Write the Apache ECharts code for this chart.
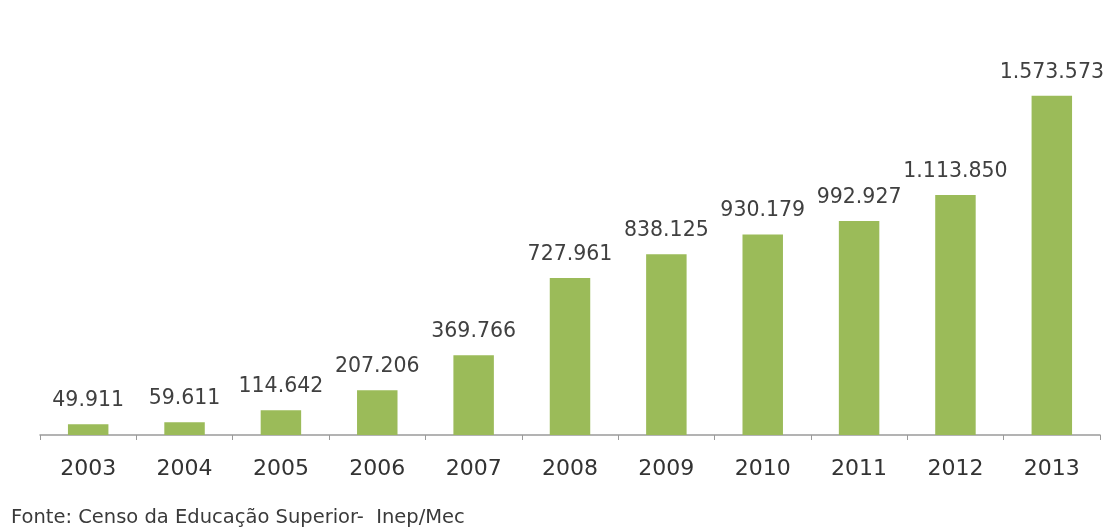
<!DOCTYPE html>
<html>
<head>
<meta charset="utf-8">
<script src="https://cdn.jsdelivr.net/npm/echarts@6/dist/echarts.min.js"></script>
<style>
  html, body { margin: 0; padding: 0; background: #fff; }
  #main { width: 1110px; height: 532px; }
</style>
</head>
<body>
<div id="main"></div>
<script>
var anos = ['2003', '2004', '2005', '2006', '2007', '2008', '2009', '2010', '2011', '2012', '2013'];
var matriculas = [49911, 59611, 114642, 207206, 369766, 727961, 838125, 930179, 992927, 1113850, 1573573];

// formata com ponto como separador de milhar
function fmt(v) {
	return String(v).replace(/\B(?=(\d{3})+(?!\d))/g, '.');
}

var myChart = echarts.init(document.getElementById('main'));
var option = {
	textStyle: { fontFamily: 'DejaVu Sans' },
	title: {
		text: 'Fonte: Censo da Educação Superior-  Inep/Mec',
		left: 6,
		top: 503,
		textStyle: { fontSize: 19.5, fontWeight: 'normal', color: '#3a3a3a', fontFamily: 'DejaVu Sans' }
	},
	grid: { left: 40, right: 10, top: 47, height: 388 },
	xAxis: {
		type: 'category',
		data: anos,
		axisLine: { lineStyle: { color: '#9a9a9a', width: 1.5 } },
		axisTick: { show: true, length: 5, alignWithLabel: false, lineStyle: { color: '#9a9a9a' } },
		axisLabel: { fontSize: 22, color: '#333', margin: 23 }
	},
	yAxis: {
		type: 'value',
		min: 0,
		max: 1800000,
		show: false,
		splitLine: { show: false }
	},
	series: [{
		type: 'bar',
		data: matriculas,
		barWidth: '42%',
		itemStyle: { color: '#9bbb59' },
		label: {
			show: true,
			position: 'top',
			distance: 13,
			fontSize: 20.5,
			color: '#404040',
			formatter: function (p) { return fmt(p.value); }
		}
	}]
};
myChart.setOption(option);
</script>
</body>
</html>
